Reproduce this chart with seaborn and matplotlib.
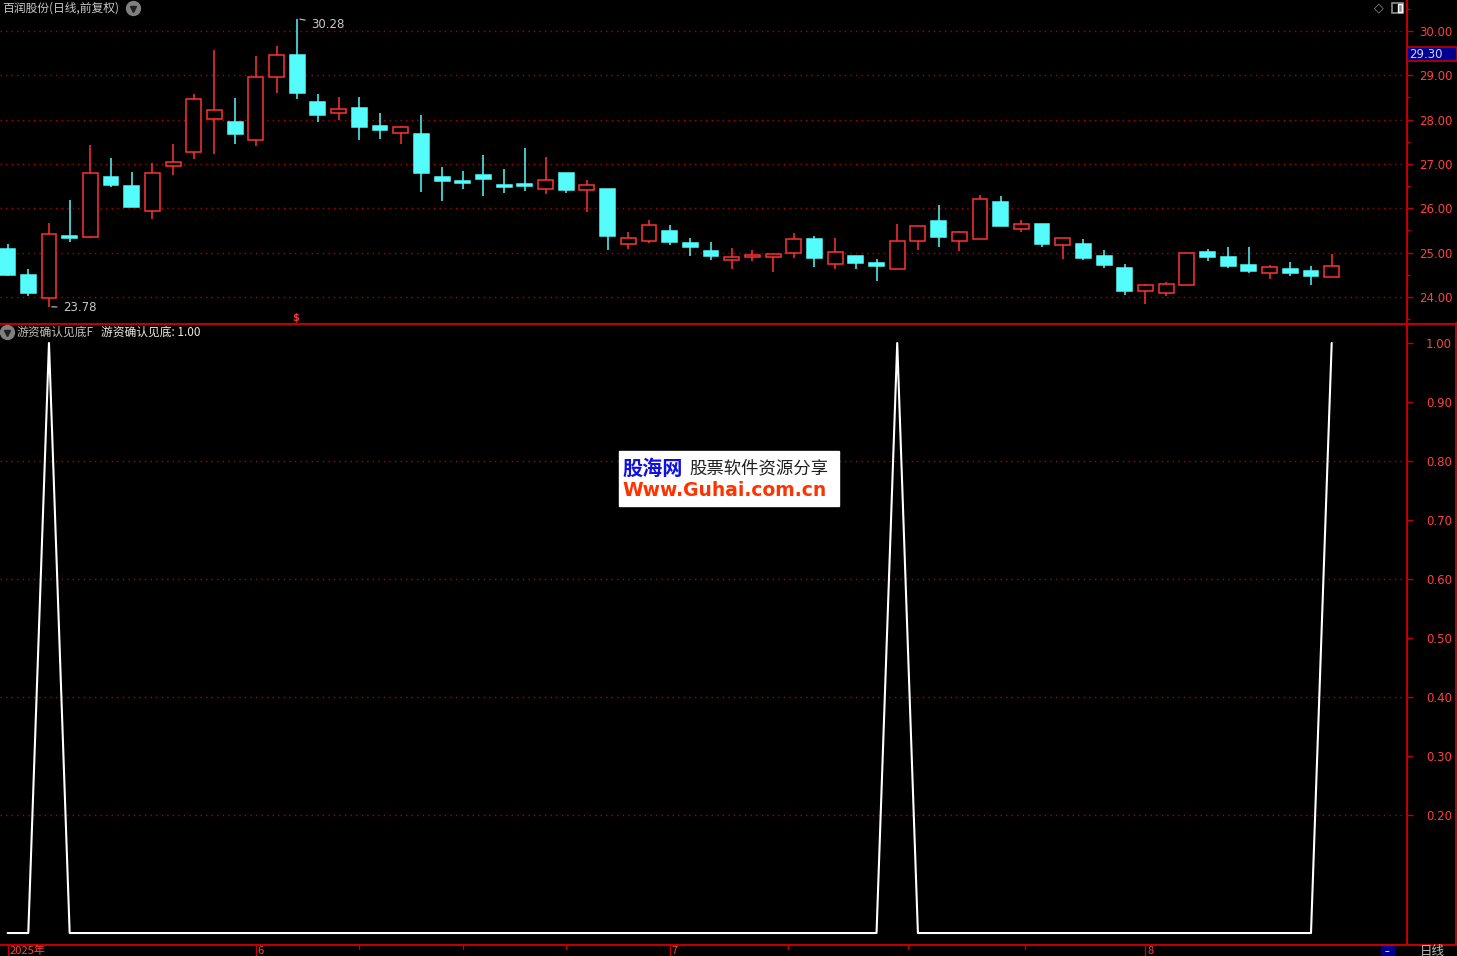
import numpy as np
import pandas as pd
import matplotlib
matplotlib.use("Agg")
import matplotlib.pyplot as plt
from matplotlib.lines import Line2D
from matplotlib.patches import Rectangle
import matplotlib.transforms as mtransforms
import seaborn as sns

# ================= DATA =================
OPEN = [25.08, 24.50, 23.97, 25.37, 25.35, 26.71, 26.50, 25.95, 26.96, 27.26,
        28.01, 27.95, 27.53, 28.96, 29.46, 28.40, 28.14, 28.26, 27.86, 27.71,
        27.68, 26.71, 26.62, 26.75, 26.53, 26.55, 26.43, 26.80, 26.41, 26.44,
        25.20, 25.27, 25.49, 25.22, 25.04, 24.83, 24.90, 24.90, 24.99, 25.31,
        24.74, 24.92, 24.76, 24.62, 25.26, 25.71, 25.26, 25.31, 26.14, 25.53,
        25.65, 25.18, 25.20, 24.92, 24.65, 24.14, 24.10, 24.28, 25.01, 24.90,
        24.72, 24.53, 24.63, 24.59, 24.46]
CLOSE = [24.50, 24.10, 25.42, 25.34, 26.79, 26.53, 26.03, 26.79, 27.04, 28.47,
         28.22, 27.68, 28.96, 29.45, 28.61, 28.11, 28.24, 27.84, 27.77, 27.83,
         26.80, 26.62, 26.58, 26.65, 26.49, 26.51, 26.64, 26.42, 26.52, 25.38,
         25.32, 25.62, 25.25, 25.13, 24.93, 24.90, 24.94, 24.96, 25.30, 24.89,
         25.01, 24.77, 24.71, 25.26, 25.59, 25.36, 25.46, 26.20, 25.61, 25.64,
         25.20, 25.32, 24.88, 24.72, 24.13, 24.26, 24.29, 24.99, 24.91, 24.71,
         24.59, 24.67, 24.53, 24.48, 24.69]
HIGH = [25.20, 24.63, 25.67, 26.19, 27.43, 27.14, 26.82, 27.02, 27.45, 28.58,
        29.57, 28.49, 29.44, 29.66, 30.28, 28.58, 28.51, 28.51, 28.15, 27.86,
        28.11, 26.93, 26.84, 27.20, 26.89, 27.36, 27.16, 26.80, 26.64, 26.44,
        25.47, 25.74, 25.62, 25.33, 25.24, 25.10, 25.06, 24.97, 25.44, 25.38,
        25.33, 24.92, 24.86, 25.65, 25.60, 26.07, 25.49, 26.30, 26.28, 25.74,
        25.65, 25.33, 25.31, 25.06, 24.74, 24.29, 24.34, 25.00, 25.08, 25.13,
        25.13, 24.72, 24.79, 24.70, 24.97]
LOW = [24.47, 24.03, 23.78, 25.25, 25.33, 26.49, 26.03, 25.77, 26.75, 27.12,
       27.23, 27.46, 27.41, 28.59, 28.46, 27.95, 27.99, 27.53, 27.57, 27.46,
       26.37, 26.17, 26.44, 26.28, 26.35, 26.40, 26.33, 26.35, 25.92, 25.06,
       25.08, 25.22, 25.18, 24.93, 24.84, 24.64, 24.81, 24.57, 24.89, 24.68,
       24.64, 24.62, 24.37, 24.62, 25.05, 25.13, 25.04, 25.31, 25.61, 25.47,
       25.13, 24.86, 24.83, 24.65, 24.04, 23.84, 24.03, 24.28, 24.82, 24.65,
       24.53, 24.41, 24.48, 24.28, 24.44]
SIGNAL = [0, 0, 1, 0, 0, 0, 0, 0, 0, 0,
          0, 0, 0, 0, 0, 0, 0, 0, 0, 0,
          0, 0, 0, 0, 0, 0, 0, 0, 0, 0,
          0, 0, 0, 0, 0, 0, 0, 0, 0, 0,
          0, 0, 0, 1, 0, 0, 0, 0, 0, 0,
          0, 0, 0, 0, 0, 0, 0, 0, 0, 0,
          0, 0, 0, 0, 1]

PRICE_TICKS = [24, 25, 26, 27, 28, 29, 30]
SIGNAL_TICKS = [0.2, 0.3, 0.4, 0.5, 0.6, 0.7, 0.8, 0.9, 1.0]
SIGNAL_GRID = [0.2, 0.4, 0.6, 0.8]
MONTH_LABELS = ["2025年", "6", "7", "8"]
MONTH_POS = [0, 12, 32, 55]
WEEK_POS = [17, 22, 27, 37.7, 43.5, 49.2]
LAST_PRICE = "29.30"
# =========================================

W, H = 1457, 956
UP = "#FF3232"
DOWN = "#54FCFC"
AXIS = "#C00000"
LABEL = "#FF4040"
GRID = "#B00000"
CJK = ["Noto Sans CJK SC", "DejaVu Sans"]

sns.set_theme(style="dark", rc={
    "axes.facecolor": "black",
    "figure.facecolor": "black",
    "axes.edgecolor": AXIS,
    "axes.grid": False,
})
plt.rcParams["font.family"] = CJK


def fx(x):
    return x / W


def fy(y):
    return 1 - y / H


fig = plt.figure(figsize=(W / 100, H / 100), dpi=100)
ax1 = fig.add_axes([0, fy(323), fx(1407), 323 / H])
ax2 = fig.add_axes([0, fy(944), fx(1407), (944 - 323) / H])

idx = np.arange(len(OPEN))
df = pd.DataFrame({"i": idx, "open": OPEN, "high": HIGH, "low": LOW,
                   "close": CLOSE, "signal": SIGNAL})
df["up"] = df["close"] >= df["open"]

for ax in (ax1, ax2):
    ax.set_xlim(-0.367, 67.64)
    for s in ("left", "top", "bottom"):
        ax.spines[s].set_visible(False)
    ax.spines["right"].set_color(AXIS)
    ax.spines["right"].set_linewidth(1.5)
    ax.set_xticks([])
    ax.yaxis.tick_right()
    ax.tick_params(axis="y", which="major", colors=AXIS, length=4, width=1,
                   pad=28.5, labelcolor=LABEL, labelsize=8.5)
    ax.tick_params(axis="y", which="minor", colors=AXIS, length=2.5, width=1)

# ---- price panel ----
ax1.set_ylim(23.413, 30.699)
for p in PRICE_TICKS:
    ax1.axhline(p, color=GRID, lw=1, ls=(0, (1, 3)), zorder=0)

colors = np.where(df["up"], UP, DOWN)
ax1.vlines(df["i"], df["low"], df["high"], colors=colors, lw=1.1, zorder=1)
body_lo = np.minimum(df["open"], df["close"])
body_h = np.maximum((df["close"] - df["open"]).abs(), 0.02)
ax1.bar(df["i"], body_h, bottom=body_lo, width=0.72,
        color=np.where(df["up"], "black", DOWN), edgecolor=colors,
        linewidth=1.1, zorder=2)

ax1.set_yticks(PRICE_TICKS)
ax1.set_yticklabels([f"{p:.2f}" for p in PRICE_TICKS], family="DejaVu Sans",
                    ha="right")
ax1.set_yticks(np.arange(23.5, 30.6, 1.0), minor=True)

imax = int(np.argmax(HIGH))
imin = int(np.argmin(LOW))
ax1.annotate(f"{HIGH[imax]:.2f}", xy=(imax, HIGH[imax]), xytext=(14, -6),
             textcoords="offset pixels", color="#C8C8C8", fontsize=8.5,
             family="DejaVu Sans", va="center",
             arrowprops=dict(arrowstyle="-", color="#C8C8C8", lw=0.8))
ax1.annotate(f"{LOW[imin]:.2f}", xy=(imin, LOW[imin]), xytext=(14, -1),
             textcoords="offset pixels", color="#C8C8C8", fontsize=8.5,
             family="DejaVu Sans", va="center",
             arrowprops=dict(arrowstyle="-", color="#C8C8C8", lw=0.8))
ax1.text(imax - 0.1, 23.52, "$", color=UP, fontsize=7, fontweight="bold",
         ha="center", va="center", family="DejaVu Sans")

# ---- signal panel ----
ax2.set_ylim(-0.0186, 1.0339)
for g in SIGNAL_GRID:
    ax2.axhline(g, color=GRID, lw=1, ls=(0, (1, 3)), zorder=0)
sns.lineplot(data=df, x="i", y="signal", ax=ax2, color="white",
             linewidth=1.5, legend=False)
ax2.set_xlabel("")
ax2.set_ylabel("")
ax2.set_yticks(SIGNAL_TICKS)
ax2.set_yticklabels([f"{v:.2f}" for v in SIGNAL_TICKS], family="DejaVu Sans",
                    ha="right")
ax2.set_xlim(-0.367, 67.64)

# ---- frame lines ----
fig.add_artist(Line2D([0, 1], [fy(323.5), fy(323.5)], color=AXIS, lw=1.5,
                      transform=fig.transFigure))
fig.add_artist(Line2D([0, 1], [fy(944.5), fy(944.5)], color=AXIS, lw=1.5,
                      transform=fig.transFigure))
fig.add_artist(Line2D([fx(1455.5), fx(1455.5)], [fy(323), fy(945)], color=AXIS,
                      lw=1.5, transform=fig.transFigure))

# ---- date axis ----
trans = mtransforms.blended_transform_factory(ax2.transData, fig.transFigure)
for pos, lab in zip(MONTH_POS, MONTH_LABELS):
    fig.add_artist(Line2D([pos, pos], [fy(945), fy(956)], color=AXIS, lw=1,
                          transform=trans))
    fig.text(pos + 0.08, fy(951), lab, transform=trans, color=LABEL,
             fontsize=8, va="center", ha="left")
for pos in WEEK_POS:
    fig.add_artist(Line2D([pos, pos], [fy(945), fy(949)], color=AXIS, lw=1,
                          transform=trans))
fig.add_artist(Rectangle((fx(1381), fy(956)), fx(13), 11 / H, color="#000090",
                         transform=fig.transFigure))
fig.text(fx(1387), fy(952), "--", color="white", fontsize=6, ha="center",
         va="center")
fig.text(fx(1420), fy(951), "日线", color="#C0C0C0", fontsize=9, va="center")

# ---- last price box ----
fig.add_artist(Rectangle((fx(1407), fy(61)), fx(50), 14 / H,
                         facecolor="#000090", edgecolor=AXIS, lw=1.2,
                         transform=fig.transFigure))
fig.text(fx(1409), fy(54), LAST_PRICE, color="#D0D0FF", fontsize=8.5,
         va="center", family="DejaVu Sans")

# ---- headers ----
fig.text(fx(2), fy(8), "百润股份(日线,前复权)", color="#C8C8C8", fontsize=8.5,
         va="center")
fig.add_artist(Line2D([fx(133)], [fy(8)], marker="o", markersize=10,
                      color="#808080", transform=fig.transFigure))
fig.add_artist(Line2D([fx(133)], [fy(8.5)], marker="v", markersize=4,
                      color="#202020", transform=fig.transFigure))
fig.text(fx(1379), fy(8), "◇", color="#909090", fontsize=9, ha="center",
         va="center", family="DejaVu Sans")
fig.add_artist(Rectangle((fx(1392), fy(13)), fx(11), 10 / H, facecolor="black",
                         edgecolor="#909090", lw=1.2, transform=fig.transFigure))
fig.add_artist(Rectangle((fx(1398), fy(12)), fx(4), 8 / H, facecolor="#909090",
                         transform=fig.transFigure))

fig.add_artist(Line2D([fx(7)], [fy(332)], marker="o", markersize=10,
                      color="#808080", transform=fig.transFigure))
fig.add_artist(Line2D([fx(7)], [fy(332.5)], marker="v", markersize=4,
                      color="#202020", transform=fig.transFigure))
fig.text(fx(17), fy(332), "游资确认见底F", color="#C0C0C0", fontsize=8.5,
         va="center")
fig.text(fx(101), fy(332), "游资确认见底: 1.00", color="#E8E8E8", fontsize=8.5,
         va="center")

# ---- watermark ----
fig.add_artist(Rectangle((fx(619), fy(506)), fx(220), 55 / H, color="white",
                         transform=fig.transFigure))
fig.text(fx(622), fy(468), "股海网", color="#1010E0", fontsize=14.5,
         fontweight="bold", va="center")
fig.text(fx(689), fy(468), "股票软件资源分享", color="#202020", fontsize=12.5,
         va="center")
fig.text(fx(622), fy(491), "Www.Guhai.com.cn", color="#FF3300", fontsize=13.5,
         fontweight="bold", va="center", family="DejaVu Sans")

fig.savefig("out.png", dpi=100, facecolor="black")
